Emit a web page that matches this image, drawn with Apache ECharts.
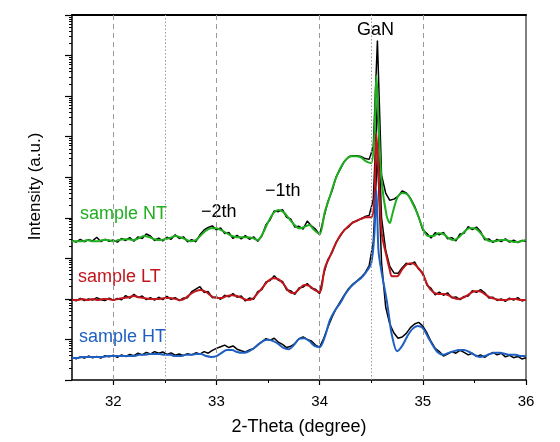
<!DOCTYPE html>
<html><head><meta charset="utf-8">
<script src="https://cdn.jsdelivr.net/npm/echarts@6/dist/echarts.min.js"></script>
<style>html,body{margin:0;padding:0;background:#fff}#c{width:560px;height:442px}</style>
</head><body><div id="c"></div>
<script>
// x positions of the fitted curves (2-Theta, degree)
const fitX = [31.60,31.65,31.70,31.75,31.80,31.85,31.90,31.95,32.00,32.05,32.10,32.15,32.20,32.25,32.30,32.35,32.40,32.45,32.50,32.55,32.60,32.65,32.70,32.75,32.80,32.85,32.90,32.95,33.00,33.05,33.10,33.15,33.20,33.25,33.30,33.35,33.40,33.45,33.50,33.55,33.60,33.65,33.70,33.75,33.80,33.85,33.90,33.95,34.00,34.05,34.10,34.15,34.20,34.25,34.30,34.35,34.40,34.45,34.50,34.53,34.55,34.57,34.60,34.65,34.68,34.70,34.75,34.80,34.85,34.90,34.95,35.00,35.05,35.10,35.15,35.20,35.25,35.30,35.35,35.40,35.45,35.50,35.55,35.60,35.65,35.70,35.75,35.80,35.85,35.90,35.95,36.00];
// fitted curves, log10(intensity)
const ntFitLog = [3.42,3.42,3.42,3.45,3.42,3.42,3.45,3.45,3.42,
 3.45,3.47,3.47,3.45,3.50,3.55,3.52,3.47,3.45,3.47,
 3.50,3.55,3.52,3.47,3.42,3.45,3.57,3.69,3.74,3.74,
 3.69,3.62,3.55,3.52,3.52,3.52,3.50,3.45,3.62,3.89,
 4.11,4.19,4.14,3.99,3.84,3.74,3.77,3.82,3.69,3.60,
 4.14,4.53,4.93,5.22,5.42,5.52,5.52,5.49,5.39,5.35,
 6.03,7.51,6.40,
 4.93,4.04,3.87,4.04,
 4.48,4.61,4.58,4.36,4.09,3.74,
 3.55,3.55,3.62,3.60,3.50,3.45,3.52,3.65,3.74,3.74,
 3.65,3.50,3.42,3.42,3.45,3.45,3.42,3.40,3.42,3.45];
const ltFitLog = [1.97,1.97,2.00,1.97,2.00,1.97,2.00,2.00,1.97,
 2.00,2.02,2.04,2.07,2.04,2.02,2.00,2.00,2.00,2.02,
 2.02,2.00,1.97,2.02,2.12,2.19,2.22,2.17,2.07,2.02,
 2.02,2.07,2.09,2.07,2.02,1.97,2.00,2.14,2.29,2.44,
 2.51,2.49,2.37,2.19,2.14,2.24,2.34,2.32,2.22,2.17,
 2.76,3.05,3.33,3.57,3.72,3.84,3.92,3.97,4.01,4.01,
 4.43,6.08,5.17,
 3.65,3.03,2.71,2.56,
 2.56,2.73,2.86,2.88,2.78,2.61,
 2.32,2.17,2.12,2.12,2.09,2.02,2.00,2.04,2.12,2.19,
 2.19,2.12,2.04,2.00,1.97,1.97,2.00,2.00,1.97,1.97];
const htFitLog = [0.54,0.54,0.57,0.57,0.57,0.57,0.57,0.59,0.59,
 0.59,0.59,0.59,0.59,0.62,0.62,0.64,0.64,0.64,0.62,
 0.62,0.59,0.59,0.62,0.62,0.64,0.64,0.59,0.57,0.59,
 0.67,0.74,0.74,0.69,0.67,0.69,0.76,0.86,0.96,0.99,
 0.96,0.89,0.79,0.76,0.86,1.01,1.03,0.96,0.84,0.81,
 1.06,1.48,1.72,1.90,2.12,2.29,2.41,2.51,2.66,2.88,
 3.57,4.68,3.20,
 2.66,1.97,1.43,1.11,
 0.71,0.84,1.08,1.26,1.33,1.28,
 1.06,0.84,0.67,0.62,0.67,0.71,0.74,0.74,0.69,0.62,
 0.57,0.59,0.64,0.67,0.67,0.64,0.62,0.62,0.59,0.59];
// measured data positions
const dataX = [31.60,31.64,31.68,31.72,31.76,31.80,31.84,31.88,31.92,31.96,32.00,
 32.04,32.08,32.12,32.16,32.20,32.24,32.28,32.32,32.36,32.40,
 32.44,32.48,32.52,32.56,32.60,32.64,32.68,32.72,32.76,32.80,
 32.84,32.88,32.92,32.96,33.00,33.04,33.08,33.12,33.16,33.20,
 33.24,33.28,33.32,33.36,33.40,33.44,33.48,33.52,33.56,33.60,
 33.64,33.68,33.72,33.76,33.80,33.84,33.88,33.92,33.96,34.00,
 34.04,34.08,34.12,34.16,34.20,34.24,34.28,34.32,34.36,34.40,
 34.44,34.48,34.52,34.56,34.60,34.64,34.68,34.72,34.76,34.80,
 34.84,34.88,34.92,34.96,35.00,35.04,35.08,35.12,35.16,35.20,
 35.24,35.28,35.32,35.36,35.40,35.44,35.48,35.52,35.56,35.60,
 35.64,35.68,35.72,35.76,35.80,35.84,35.88,35.92,35.96,36.00];
// measured data, log10(intensity)
const ntDataLog = [3.44,3.40,3.47,3.41,3.46,3.43,3.52,3.41,3.47,3.42,3.45,
 3.40,3.49,3.44,3.51,3.42,3.53,3.49,3.60,3.55,3.44,
 3.50,3.43,3.52,3.47,3.58,3.49,3.53,3.41,3.46,3.41,
 3.58,3.70,3.76,3.80,3.70,3.75,3.61,3.64,3.49,3.57,
 3.48,3.56,3.47,3.53,3.42,3.55,3.83,3.95,4.17,4.15,
 4.20,4.01,3.97,3.77,3.79,3.72,3.92,3.80,3.72,3.58,
 4.00,4.40,4.66,5.01,5.20,5.39,5.50,5.53,5.53,5.51,
 5.46,5.44,5.75,8.37,5.05,4.61,4.43,4.46,4.53,4.66,
 4.61,4.48,4.29,4.01,3.70,3.61,3.50,3.63,3.58,3.64,
 3.48,3.51,3.43,3.60,3.62,3.78,3.71,3.77,3.66,3.46,
 3.48,3.39,3.47,3.41,3.48,3.40,3.45,3.39,3.44,3.42];
const ltDataLog = [1.99,1.95,2.01,1.96,2.00,1.97,2.03,1.98,1.96,2.02,1.97,
 2.01,1.98,2.08,2.02,2.11,2.03,2.07,1.98,2.03,1.97,
 2.04,1.98,2.06,1.99,2.03,1.96,2.02,2.03,2.18,2.24,
 2.30,2.16,2.18,2.03,2.05,1.99,2.09,2.05,2.13,2.04,
 2.07,1.95,2.02,1.99,2.18,2.23,2.42,2.45,2.57,2.46,
 2.43,2.22,2.20,2.11,2.27,2.29,2.38,2.26,2.24,2.13,
 2.62,2.97,3.14,3.40,3.55,3.71,3.77,3.89,3.92,3.98,
 4.03,4.06,4.45,6.90,4.00,3.20,2.80,2.64,2.63,2.77,
 2.88,2.85,2.91,2.73,2.64,2.34,2.26,2.10,2.17,2.09,
 2.15,2.03,2.05,1.98,2.06,2.07,2.20,2.16,2.23,2.15,
 2.02,2.04,1.96,2.00,1.94,2.02,1.97,2.03,1.95,1.98];
const htDataLog = [0.56,0.52,0.57,0.54,0.59,0.55,0.58,0.54,0.60,0.57,0.61,
 0.56,0.62,0.58,0.63,0.60,0.66,0.62,0.68,0.64,0.70,
 0.66,0.69,0.63,0.67,0.61,0.64,0.60,0.65,0.62,0.67,
 0.64,0.70,0.66,0.73,0.78,0.82,0.86,0.80,0.84,0.76,
 0.72,0.69,0.74,0.78,0.87,0.94,1.02,0.98,1.03,0.93,
 0.88,0.80,0.83,0.90,1.02,1.06,1.00,0.96,0.86,0.81,
 1.03,1.30,1.55,1.76,1.93,2.10,2.25,2.36,2.44,2.53,
 2.64,2.82,3.40,5.60,2.90,1.80,1.38,1.16,1.03,1.06,
 1.15,1.29,1.38,1.42,1.33,1.16,0.95,0.78,0.70,0.59,
 0.64,0.70,0.66,0.73,0.68,0.62,0.66,0.58,0.62,0.56,
 0.63,0.68,0.62,0.66,0.57,0.61,0.55,0.58,0.52,0.55];
const xMajorTicks = [32, 33, 34, 35, 36];
const xMinorTicks = [32.5, 33.5, 34.5, 35.5];
const dashedRefs = [32, 33, 34, 35];
const dottedRefs = [32.5, 34.5];
const sampleNames = ['sample NT', 'sample LT', 'sample HT'];
const sampleColors = ['#1fae1f', '#c0161c', '#1f5fc0'];

const toPairs = (xs, logs) => xs.map((x, i) => [x, Math.pow(10, logs[i])]);
const FONT = '"Liberation Sans", Arial, sans-serif';

const chart = echarts.init(document.getElementById('c'), null, {renderer: 'canvas'});
const dataSeries = [ntDataLog, ltDataLog, htDataLog].map(d => ({
  type: 'line', data: toPairs(dataX, d), showSymbol: false, silent: true,
  lineStyle: {color: '#000', width: 1.5}, z: 2, animation: false
}));
const fitSeries = [ntFitLog, ltFitLog, htFitLog].map((d, i) => ({
  type: 'line', name: sampleNames[i], data: toPairs(fitX, d), showSymbol: false, silent: true,
  smooth: 0.3, lineStyle: {color: sampleColors[i], width: 2}, z: 3, animation: false
}));
dataSeries[0].markLine = {
  symbol: 'none', silent: true, animation: false, label: {show: false},
  lineStyle: {color: '#9a9a9a', width: 1, type: [5, 4]},
  data: dashedRefs.map(v => ({xAxis: v})).concat(dottedRefs.map(v => ({xAxis: v, lineStyle: {type: [1.5, 2], color: '#9a9a9a', width: 1}})))
};

chart.setOption({
  backgroundColor: '#fff',
  animation: false,
  grid: {left: 72, top: 15, right: 34, bottom: 62},
  xAxis: [{
    type: 'value', min: 31.6, max: 36,
    name: '2-Theta (degree)', nameLocation: 'middle', nameGap: 38,
    nameTextStyle: {fontSize: 18, fontFamily: FONT, color: '#000'},
    axisLine: {lineStyle: {color: '#000', width: 1.5}},
    axisTick: {show: true, length: 5, customValues: xMajorTicks, lineStyle: {color: '#000', width: 1.2}},
    axisLabel: {fontSize: 15, fontFamily: FONT, color: '#000', margin: 14, customValues: xMajorTicks},
    splitLine: {show: false}
  }, {
    type: 'value', min: 31.6, max: 36, position: 'top',
    axisLine: {show: true, lineStyle: {color: '#000', width: 2}},
    axisTick: {show: false}, axisLabel: {show: false}, splitLine: {show: false}
  }, {
    type: 'value', min: 31.6, max: 36, position: 'bottom', offset: 0,
    axisLine: {show: false},
    axisTick: {show: true, length: 3, customValues: xMinorTicks, lineStyle: {color: '#000', width: 1}},
    axisLabel: {show: false}, splitLine: {show: false}
  }],
  yAxis: [{
    type: 'log', logBase: 10, min: 1, max: 1e9, splitNumber: 9,
    name: 'Intensity (a.u.)', nameLocation: 'middle', nameGap: 28, nameRotate: 90,
    nameTextStyle: {fontSize: 17, fontFamily: FONT, color: '#000', padding: [0, 0, 0, 22]},
    axisLine: {show: true, lineStyle: {color: '#000', width: 1.5}},
    axisTick: {show: true, length: 7, lineStyle: {color: '#000', width: 1.2}},
    minorTick: {show: true, splitNumber: 9, length: 3, lineStyle: {color: '#000', width: 1}},
    axisLabel: {show: false}, splitLine: {show: false}
  }, {
    type: 'value', min: 0, max: 1, position: 'right',
    axisLine: {show: true, lineStyle: {color: '#555', width: 1.5}},
    axisTick: {show: false}, axisLabel: {show: false}, splitLine: {show: false}
  }],
  graphic: [
    {type: 'text', left: 376 - 19, top: 21, style: {text: 'GaN', font: '18px ' + FONT, fill: '#000'}},
    {type: 'text', left: 201, top: 203, style: {text: '\u22122th', font: '18px ' + FONT, fill: '#000'}},
    {type: 'text', left: 265, top: 182, style: {text: '\u22121th', font: '18px ' + FONT, fill: '#000'}},
    {type: 'text', left: 80, top: 205, style: {text: sampleNames[0], font: '18px ' + FONT, fill: sampleColors[0]}},
    {type: 'text', left: 78, top: 268, style: {text: sampleNames[1], font: '18px ' + FONT, fill: sampleColors[1]}},
    {type: 'text', left: 79, top: 328, style: {text: sampleNames[2], font: '18px ' + FONT, fill: sampleColors[2]}}
  ],
  series: dataSeries.concat(fitSeries)
});
</script></body></html>
